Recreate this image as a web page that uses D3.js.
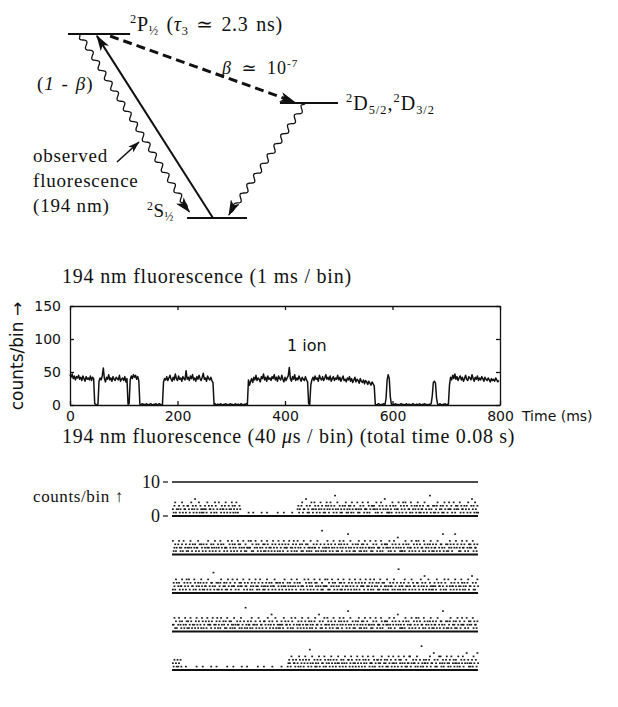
<!DOCTYPE html>
<html>
<head>
<meta charset="utf-8">
<script src="https://cdn.jsdelivr.net/npm/d3@7"></script>
<style>
body { margin: 0; background: #fff; }
svg text { fill: #111; }
.serif { font-family: "Liberation Serif", "DejaVu Serif", serif; }
.sans { font-family: "DejaVu Sans", "Liberation Sans", sans-serif; }
.axis path, .axis line { stroke: #111; stroke-width: 1.3; }
.axis text { font-family: "DejaVu Sans", sans-serif; font-size: 14px; fill: #111; }
</style>
</head>
<body>
<div id="fig"></div>
<script>
// --- level diagram (schematic units: x 0..1 across, y 0 = P level, 1 = S level)
const levels = [
    { id: 'P', x0: 0, x1: 0.23, y: 0 },
    { id: 'D', x0: 0.785, x1: 1.0, y: 0.375 },
    { id: 'S', x0: 0.441, x1: 0.663, y: 1 }
];
// transitions: from, to, style
const transitions = [
    { from: [0.537, 1], to: [0.107, 0.01], kind: 'solid' },
    { from: [0.044, 0.005], to: [0.45, 0.967], kind: 'wavy' },
    { from: [0.156, 0.011], to: [0.84, 0.37], kind: 'dashed' },
    { from: [0.878, 0.38], to: [0.596, 0.984], kind: 'wavy' }
];

// --- 194 nm fluorescence, 1 ion, counts per 1 ms bin (read every 2 ms)
const traceSegments = [
    { t: 0, v: [46,42,47,40,44,38,43,41,45,39,42,37,44,40,36,43,39,41,38,44,37,42,40] },
    { t: 46, v: [2,1,0,1] },
    { t: 54, v: [36,41,38,44,56,40,35,42,39,46,38,41,36,43,39,37,42,40,38,45,36,39,41,37,43,35,40] },
    { t: 108, v: [1,2] },
    { t: 112, v: [38,44,40,46,42,45,39,43,37] },
    { t: 130, v: [1,0,2,1,1,0,2,1,0,1,2,1,0,1,1,2,0,1,2,1,0,1] },
    { t: 174, v: [35,40,38,43,37,41,45,39,36,42,38,47,40,37,44,39,41,36,43,40,38,52,39,42,37,44,40,46,38,41,36,43,39,45,40,37,42,48,39,41,36,44,40,38,42,37,34] },
    { t: 268, v: [1,2,0,1,1,0,2,1,0,1,1,2,0,1,0,2,1,1,0,1,2,0,1,1,0,2,1,0,1,1,2,1] },
    { t: 332, v: [38,30] },
    { t: 336, v: [36,40,34,42,38,45,37,41,39,35,43,40,47,38,42,36,44,39,41,37,43,40,46,38,42,36,44,40,38,45,39,35,42,37,41,44,57,40,36,43,39,46,37,41,38,44,40,36,42,39,37,43,38,35] },
    { t: 444, v: [2,1] },
    { t: 448, v: [30,38,42,37,44,39,41,36,45,40,38,43,37,41,46,39,42,38,44,36,40,43,37,41,39,45,38,42,36,40,44,37,39,35,41,38,43,36,40,34,38,42,35,39,37,33,40,36,34,38,32,37,35,31,36,33,30,35,32,29] },
    { t: 568, v: [1,0,1,2,1,0,1,1,2,0] },
    { t: 588, v: [10,38,46,40,12] },
    { t: 598, v: [1,0,1,1,2,0,1,0,1,2,1,1,0,1,2,0,1,1,0,1,2,1,0,1,1,0,2,1,0,1,1,2,0,1,0,1,1,2] },
    { t: 674, v: [14,34,36,33,10] },
    { t: 684, v: [1,0,2,1,0,1,1,2,0,1,1] },
    { t: 706, v: [30,42,38,45,40,47,39,43,37,41,44,38,42,36,40,45,39,37,43,41,38,46,40,36,42,39,44,37,41,38,43,40,36,42,39,37,41,38,35,40,37,39,36,41,38,35,37] }
];
const midXTicks = [0, 200, 400, 600, 800];
const midYTicks = [0, 50, 100, 150];

// --- 40 us bins, 400 bins per row, digit = counts in bin
const D1 = '00000100000000001000', D2 = '00010000000000000100';
const H = [
    '21341202312041322103', '32104231253120413212', '12321403221302143120', '40213221342103212431',
    '23120341220531213042', '12432103214230121342', '31243021362142031213', '02341213231421302241',
    '21320431222143120332', '32142103241320523121', '13214302312241032143', '24130221431203213421',
    '31223140213326120313', '12341023213142031242', '23104213232041322130', '41231203421231402312',
    '12342130231224130321', '30213242103213241203', '21432031222140321432', '13201432312042131224',
    '22413102432130214231', '31243120213421302143', '12031423221340212341', '23142032131420313212',
    '41203221341203172132'
];
const row1 = [H[0], H[1], H[2], H[3], '231421032', '00000000001', D1, D2, D1, '000',
    H[4], H[5], H[6], H[7], H[8], H[9], H[10], H[11], H[12], H[13], H[14], '23142013523142131'].join('');
const row2 = [H[15], H[16], H[17], H[18], H[19], H[20], H[21], H[22], H[23], H[24],
    H[5], H[6], H[7], H[8], H[9], H[10], H[11], H[12], '12432103264230121342', H[14]].join('');
const row3 = [H[10], H[11], H[12], H[13], H[14], H[15], H[16], H[17], H[18], H[19],
    H[20], H[21], H[22], H[23], H[24], H[0], H[1], H[2], H[3], H[4]].join('');
const row4 = [H[20], H[21], H[22], H[23], H[24], H[0], H[1], H[2], H[3], H[4],
    H[5], H[6], H[7], H[8], H[9], H[10], H[11], H[12], H[13], H[14]].join('');
const row5 = ['21302131203100', D2, D1, D2, D1, D2, D1, '0000000010000000',
    H[2], H[6], H[11], H[17], H[21], H[8], H[13], H[19], H[24], H[4], H[15], H[9], '2314203152'].join('');
const rows = [row1, row2, row3, row4, row5];

const svg = d3.select('#fig').append('svg')
    .attr('width', 618)
    .attr('height', 707);

const defs = svg.append('defs');
let addHead = (id, w, h) => {
    defs.append('marker')
        .attr('id', id)
        .attr('viewBox', '0 0 16 10')
        .attr('refX', 15).attr('refY', 5)
        .attr('markerWidth', w).attr('markerHeight', h)
        .attr('markerUnits', 'userSpaceOnUse')
        .attr('orient', 'auto')
        .append('path').attr('d', 'M0,0 L16,5 L0,10 L4,5 Z').attr('fill', '#111');
};
addHead('head', 16, 10);
addHead('headSmall', 12, 8);

// rich text with sup / sub / italic pieces
let richText = (g, x, y, parts, size, spacing, words) => {
    const t = g.append('text').attr('x', x).attr('y', y).attr('class', 'serif')
        .style('font-size', size + 'px')
        .style('letter-spacing', (spacing || 0) + 'px')
        .style('word-spacing', (words || 0) + 'px');
    let shift = 0;
    for (const [s, k] of parts) {
        const ts = t.append('tspan').text(s);
        const target = k === 'sup' ? -0.38 * size : (k === 'sub' ? 0.22 * size : 0);
        ts.attr('dy', target - shift);
        shift = target;
        if (k === 'sup' || k === 'sub') ts.style('font-size', (size * 0.62) + 'px');
        if (k === 'it') ts.style('font-style', 'italic');
    }
    return t;
};

let wavy = (p0, p1, amp, wl) => {
    const dx = p1[0] - p0[0], dy = p1[1] - p0[1], L = Math.hypot(dx, dy);
    const ux = dx / L, uy = dy / L, nx = -uy, ny = ux;
    const pts = d3.range(0, L, 1).concat([L]).map(s => {
        const a = amp * Math.sin(2 * Math.PI * s / wl) * Math.min(1, (L - s) / 14, s / 4 + 0.2);
        return [p0[0] + ux * s + nx * a, p0[1] + uy * s + ny * a];
    });
    return d3.line().curve(d3.curveBasis)(pts);
};

// ---------- level diagram ----------
const dX = d3.scaleLinear().domain([0, 1]).range([68, 338]);
const dY = d3.scaleLinear().domain([0, 1]).range([34, 218]);
const gd = svg.append('g');

gd.selectAll('.level').data(levels).enter().append('line')
    .attr('class', 'level')
    .attr('x1', d => dX(d.x0)).attr('x2', d => dX(d.x1))
    .attr('y1', d => dY(d.y)).attr('y2', d => dY(d.y))
    .attr('stroke', '#111').attr('stroke-width', 2);

for (const tr of transitions) {
    const p0 = [dX(tr.from[0]), dY(tr.from[1])], p1 = [dX(tr.to[0]), dY(tr.to[1])];
    const path = gd.append('path').attr('fill', 'none').attr('stroke', '#111').attr('marker-end', 'url(#head)');
    if (tr.kind === 'wavy') {
        path.attr('d', wavy(p0, p1, 2.6, 12)).attr('stroke-width', 1.3);
    } else {
        path.attr('d', d3.line()([p0, p1])).attr('stroke-width', tr.kind === 'dashed' ? 3 : 2);
        if (tr.kind === 'dashed') path.attr('stroke-dasharray', '9,5');
    }
}

richText(gd, 130, 31, [['2', 'sup'], ['P', ''], ['½', 'sub'], [' (', ''], ['τ', 'it'], ['3', 'sub'], [' ≃ 2.3 ns)', '']], 20, 0.7, 2);
richText(gd, 222, 74, [['β', 'it'], [' ≃ 10', ''], ['-7', 'sup']], 18, 1, 4);
richText(gd, 37, 90, [['(', ''], ['1', 'it'], [' - ', ''], ['β', 'it'], [')', '']], 19, 1, 1);
richText(gd, 346, 110, [['2', 'sup'], ['D', ''], ['5/2', 'sub'], [',', ''], ['2', 'sup'], ['D', ''], ['3/2', 'sub']], 20, 1, 0);
richText(gd, 147, 217, [['2', 'sup'], ['S', ''], ['½', 'sub']], 19, 0.5, 0);

const obsLines = ['observed', 'fluorescence', '(194 nm)'];
gd.selectAll('.obs').data(obsLines).enter().append('text')
    .attr('class', 'obs serif')
    .attr('x', 33)
    .attr('y', (d, i) => 162 + i * 25)
    .style('font-size', '19px')
    .style('letter-spacing', '0.8px')
    .text(d => d);
gd.append('path')
    .attr('d', d3.line()([[117, 162], [139, 142]]))
    .attr('stroke', '#111').attr('stroke-width', 1.6)
    .attr('marker-end', 'url(#headSmall)');

// ---------- 1 ms / bin trace ----------
const midX = d3.scaleLinear().domain([0, 800]).range([70, 500]);
const midY = d3.scaleLinear().domain([0, 150]).range([405, 306]);
const gm = svg.append('g');

gm.append('text').attr('class', 'serif').attr('x', 62).attr('y', 283)
    .style('font-size', '20px').style('letter-spacing', '0.8px')
    .text('194 nm fluorescence (1 ms / bin)');

gm.append('g').attr('class', 'axis').attr('transform', 'translate(0,405)')
    .call(d3.axisBottom(midX).tickValues(midXTicks).tickSize(-4).tickSizeOuter(0).tickPadding(6));
gm.append('g').attr('class', 'axis').attr('transform', 'translate(0,306)')
    .call(d3.axisTop(midX).tickValues(midXTicks).tickSize(-4).tickSizeOuter(0).tickFormat(''));
gm.append('g').attr('class', 'axis').attr('transform', 'translate(70,0)')
    .call(d3.axisLeft(midY).tickValues(midYTicks).tickSize(-4).tickSizeOuter(0).tickPadding(9));
gm.append('g').attr('class', 'axis').attr('transform', 'translate(500,0)')
    .call(d3.axisRight(midY).tickValues(midYTicks).tickSize(-4).tickSizeOuter(0).tickFormat(''));

const tracePts = [];
for (const seg of traceSegments) {
    seg.v.forEach((v, k) => tracePts.push({ t: seg.t + 2 * k, c: v }));
}
gm.append('path')
    .datum(tracePts)
    .attr('fill', 'none')
    .attr('stroke', '#111')
    .attr('stroke-width', 1.5)
    .attr('stroke-linejoin', 'round')
    .attr('d', d3.line().x(d => midX(d.t)).y(d => midY(d.c)));

gm.append('text').attr('class', 'sans').attr('x', 522).attr('y', 421)
    .style('font-size', '14px').text('Time (ms)');
gm.append('text').attr('class', 'sans').attr('x', 287).attr('y', 351)
    .style('font-size', '16px').text('1 ion');
gm.append('text').attr('class', 'sans')
    .attr('transform', 'translate(23,356) rotate(-90)')
    .attr('text-anchor', 'middle')
    .style('font-size', '17px').text('counts/bin →');

// ---------- 40 us / bin rows ----------
const botX = d3.scaleLinear().domain([0, 400]).range([172, 478]);
const botY = d3.scaleLinear().domain([0, 10]).range([0, -34]);
const rowY = d3.scalePoint().domain(d3.range(rows.length)).range([516, 670]);
const gb = svg.append('g');

gb.append('text').attr('class', 'serif').attr('x', 62).attr('y', 443)
    .style('font-size', '20px').style('letter-spacing', '0.7px')
    .call(t => {
        t.append('tspan').text('194 nm fluorescence (40 ');
        t.append('tspan').style('font-style', 'italic').text('μ');
        t.append('tspan').text('s / bin) (total time 0.08 s)');
    });

gb.append('line')
    .attr('x1', botX(0)).attr('x2', botX(400))
    .attr('y1', rowY(0) + botY(10)).attr('y2', rowY(0) + botY(10))
    .attr('stroke', '#111').attr('stroke-width', 1.4);

const yLabels = [10, 0];
gb.selectAll('.blab').data(yLabels).enter().append('text')
    .attr('class', 'blab serif')
    .attr('x', 160).attr('y', d => rowY(0) + botY(d) + 6)
    .attr('text-anchor', 'end')
    .style('font-size', '18px')
    .text(d => d);
gb.selectAll('.btick').data(yLabels).enter().append('line')
    .attr('x1', 163).attr('x2', 168)
    .attr('y1', d => rowY(0) + botY(d)).attr('y2', d => rowY(0) + botY(d))
    .attr('stroke', '#111').attr('stroke-width', 1.2);

gb.append('text').attr('class', 'serif').attr('x', 33).attr('y', 502)
    .style('font-size', '17px').style('letter-spacing', '0.6px').text('counts/bin ↑');

rows.forEach((row, r) => {
    const y0 = rowY(r);
    const g = gb.append('g');
    g.append('line')
        .attr('x1', botX(0)).attr('x2', botX(400))
        .attr('y1', y0).attr('y2', y0)
        .attr('stroke', '#111').attr('stroke-width', 1.8);
    const bins = row.split('').map((ch, i) => ({ i: i, c: +ch })).filter(d => d.c > 0);
    g.selectAll('rect').data(bins).enter().append('rect')
        .attr('x', d => botX(d.i))
        .attr('y', d => y0 + botY(d.c) - 0.8)
        .attr('width', 1.8)
        .attr('height', 1.6)
        .attr('fill', '#1a1a1a');
});
</script>
</body>
</html>
